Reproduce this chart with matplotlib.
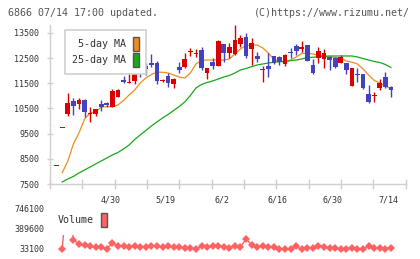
import numpy as np
import matplotlib
matplotlib.use("Agg")
import matplotlib.pyplot as plt
from matplotlib.patches import Patch

# daily candles (open, high, low, close)
opens = [8200, 9720, 10280, 10800, 10690, 10840, 10290, 10290, 10670, 10720,
         10570, 10970, 11630, 11530, 11590, 12060, 12190, 12320, 12320, 11590,
         11800, 11460, 12150, 12160, 12740, 12680, 12825, 11900, 12360, 12200,
         13060, 12720, 12655, 13050, 13330, 12865, 12585, 12020, 12190, 12585,
         12535, 12255, 12700, 12985, 12865, 13020, 12230, 12520, 12470, 12560,
         12520, 12295, 12295, 11405, 11870, 11870, 11080, 10980, 11330, 11740,
         11365]
highs = [8200, 9720, 11130, 10930, 10920, 10880, 10570, 10480, 10840, 10770,
         11260, 11260, 11790, 11900, 11920, 12280, 12300, 12670, 12380, 11680,
         11900, 11700, 12360, 12690, 12890, 12850, 12930, 12120, 12490, 13220,
         13070, 13090, 13820, 13420, 13490, 13290, 12760, 12190, 12690, 12600,
         12590, 12670, 12890, 13060, 13180, 13030, 12455, 12930, 12860, 12580,
         12560, 12630, 12300, 12100, 12100, 11890, 11430, 11170, 11660, 11960,
         11395]
lows = [8200, 9720, 10190, 10240, 10490, 10175, 9980, 10210, 10410, 10570,
        10560, 10960, 11520, 11500, 11490, 11760, 11830, 12160, 11490, 11540,
        11370, 11300, 11900, 12120, 12600, 12535, 12030, 11660, 12070, 12190,
        12360, 12490, 12625, 12960, 12520, 12230, 12360, 11565, 11760, 12255,
        12230, 12200, 12490, 12630, 12760, 12390, 11870, 12320, 12120, 12030,
        12100, 12290, 11870, 11400, 11565, 11260, 10730, 10770, 11235, 11300,
        10970]
closes = [8200, 9720, 10710, 10610, 10840, 10370, 10330, 10470, 10570, 10630,
          11200, 11235, 11540, 11550, 11860, 11920, 12080, 12240, 11600, 11610,
          11525, 11685, 12030, 12470, 12770, 12710, 12100, 12100, 12200, 13180,
          12720, 12930, 13220, 13290, 12600, 13090, 12470, 12040, 12070, 12320,
          12360, 12625, 12690, 12800, 12930, 12400, 11925, 12785, 12695, 12430,
          12160, 12560, 12030, 12100, 11850, 11305, 10770, 11010, 11500, 11365,
          11235]

ma5 = [np.nan, 7950, 8415, 9090, 9527, 10083, 10322, 10360, 10560, 10572,
       10572, 10640, 10820, 11037, 11235, 11513, 11712, 11850, 11940, 11940,
       11910, 11830, 11750, 11712, 11910, 12270, 12410, 12427, 12427, 12427,
       12427, 12467, 12666, 12864, 13003, 13023, 13023, 12904, 12705, 12447,
       12388, 12328, 12427, 12546, 12686, 12693, 12666, 12606, 12566, 12546,
       12527, 12507, 12388, 12340, 12270, 12070, 11830, 11613, 11513, 11394,
       11275]
ma25 = [np.nan, 7580, 7700, 7800, 7940, 8057, 8177, 8296, 8415, 8534,
        8653, 8752, 8892, 9050, 9269, 9447, 9626, 9805, 9964, 10123,
        10262, 10421, 10580, 10759, 11017, 11315, 11454, 11533, 11593, 11672,
        11752, 11811, 11911, 12030, 12090, 12161, 12229, 12268, 12308, 12336,
        12360, 12376, 12400, 12427, 12467, 12519, 12535, 12559, 12575, 12586,
        12586, 12586, 12586, 12586, 12546, 12487, 12427, 12368, 12328, 12249,
        12130]

volume = [np.nan, 38000, 1200000, 198900, 122000, 99000, 81000, 63400, 63400, 38500,
          140000, 81000, 81000, 69000, 81000, 69000, 69000, 81000, 81000, 69000,
          81000, 69000, 69000, 51000, 51000, 30000, 81000, 69000, 81000, 92000,
          69000, 51000, 92000, 69000, 211000, 110000, 69000, 81000, 69000, 69000,
          38500, 33000, 38500, 81000, 25000, 51000, 51000, 92000, 69000, 51000,
          51000, 25000, 38500, 51000, 38500, 25000, 81000, 51000, 51000, 38500,
          51000]

date_labels = ["4/30", "5/19", "6/2", "6/16", "6/30", "7/14"]
date_pos = [10, 20, 30, 40, 50, 60]
price_ticks = [7500, 8500, 9500, 10500, 11500, 12500, 13500]
vol_ticks = [33100, 389600, 746100]

RED = "#d90000"
BLUE = "#4343c0"
ORANGE = "#f08c1e"
GREEN = "#18a818"
VOLC = "#ff6262"
GRID = "#d0d0d0"
MONO = "DejaVu Sans Mono"

o = np.array(opens, float)
h = np.array(highs, float)
l = np.array(lows, float)
c = np.array(closes, float)
x = np.arange(len(o))
up = c >= o
cols = np.where(up, RED, BLUE)

fig = plt.figure(figsize=(4.2, 2.59), dpi=100)
W, H = 420, 259
ax = fig.add_axes([50 / W, 1 - 184 / H, 355.7 / W, 159 / H])
axv = fig.add_axes([50 / W, 1 - 253 / H, 355.7 / W, 48 / H])

# candles
ax.vlines(x, l, h, colors=cols, lw=1.0, zorder=3)
body_lo = np.minimum(o, c)
body_h = np.maximum(np.abs(c - o), 40)
ax.bar(x, body_h, bottom=body_lo, width=0.85, color=cols, linewidth=0, zorder=4)

ax.plot(x, ma5, color=ORANGE, lw=0.9, zorder=2)
ax.plot(x, ma25, color=GREEN, lw=0.9, zorder=2)

xlim = (-1.2, 62.66)
ax.set_xlim(*xlim)
ax.set_ylim(7500, 13817)
for s in ["top", "right"]:
    ax.spines[s].set_visible(False)
for s in ["left", "bottom"]:
    ax.spines[s].set_color(GRID)
    ax.spines[s].set_linewidth(1.0)

ax.set_yticks(price_ticks)
ax.set_yticklabels([str(v) for v in price_ticks])
ax.tick_params(axis="y", direction="inout", length=4.8, width=1.0, color=GRID,
               pad=5.3, labelsize=6, labelcolor="#333333")
ax.set_xticks(np.array(date_pos) - 0.4)
ax.set_xticklabels(date_labels)
ax.set_xticks(np.linspace(xlim[0], xlim[1], 12), minor=True)
ax.tick_params(axis="x", which="major", length=0, pad=8, labelsize=6,
               labelcolor="#333333")
ax.tick_params(axis="x", which="minor", direction="inout", length=6.5,
               width=1.0, color=GRID)
for t in ax.get_xticklabels() + ax.get_yticklabels():
    t.set_family(MONO)

handles = [Patch(facecolor=ORANGE, edgecolor="#555555", lw=1.0),
           Patch(facecolor=GREEN, edgecolor="#555555", lw=1.0)]
leg = ax.legend(handles, ["5-day MA", "25-day MA"], markerfirst=False,
                loc="upper left", bbox_to_anchor=(65 / W, 1 - 30 / H),
                bbox_transform=fig.transFigure, borderaxespad=0,
                prop={"family": MONO, "size": 7.2}, handlelength=0.6,
                handleheight=1.7, handletextpad=0.7, labelspacing=0.25,
                borderpad=0.7, fancybox=False, framealpha=1,
                edgecolor=GRID)
leg.get_frame().set_linewidth(1.2)
for t in leg.get_texts():
    t.set_color("#333333")

# volume
axv.plot(x, volume, color=VOLC, lw=1.0, marker="D", ms=4.0, mew=0, zorder=3)
axv.set_xlim(*xlim)
axv.set_ylim(-38200, 817400)
for s in axv.spines.values():
    s.set_visible(False)
axv.set_xticks([])
axv.set_yticks(vol_ticks)
axv.set_yticklabels([str(v) for v in vol_ticks])
axv.tick_params(axis="y", length=0, pad=4.3, labelsize=6, labelcolor="#333333")
for t in axv.get_yticklabels():
    t.set_family(MONO)
vleg = axv.legend([Patch(facecolor=VOLC, edgecolor="#555555", lw=1.0)], ["Volume"],
                  markerfirst=False, loc="upper left",
                  bbox_to_anchor=(50 / W, 1 - 205 / H),
                  bbox_transform=fig.transFigure, borderaxespad=0,
                  prop={"family": MONO, "size": 7.2}, handlelength=0.6,
                  handleheight=1.7, handletextpad=0.7, borderpad=0.8,
                  fancybox=False, framealpha=1, edgecolor="none")
for t in vleg.get_texts():
    t.set_color("#333333")

fig.text(8 / W, 1 - 12.5 / H, "6866 07/14 17:00 updated.", family=MONO,
         size=7.2, color="#555555", va="center", ha="left")
fig.text(410 / W, 1 - 12.5 / H, "(C)https://www.rizumu.net/", family=MONO,
         size=7.2, color="#555555", va="center", ha="right")

fig.savefig("out.png", dpi=100, facecolor="white")
